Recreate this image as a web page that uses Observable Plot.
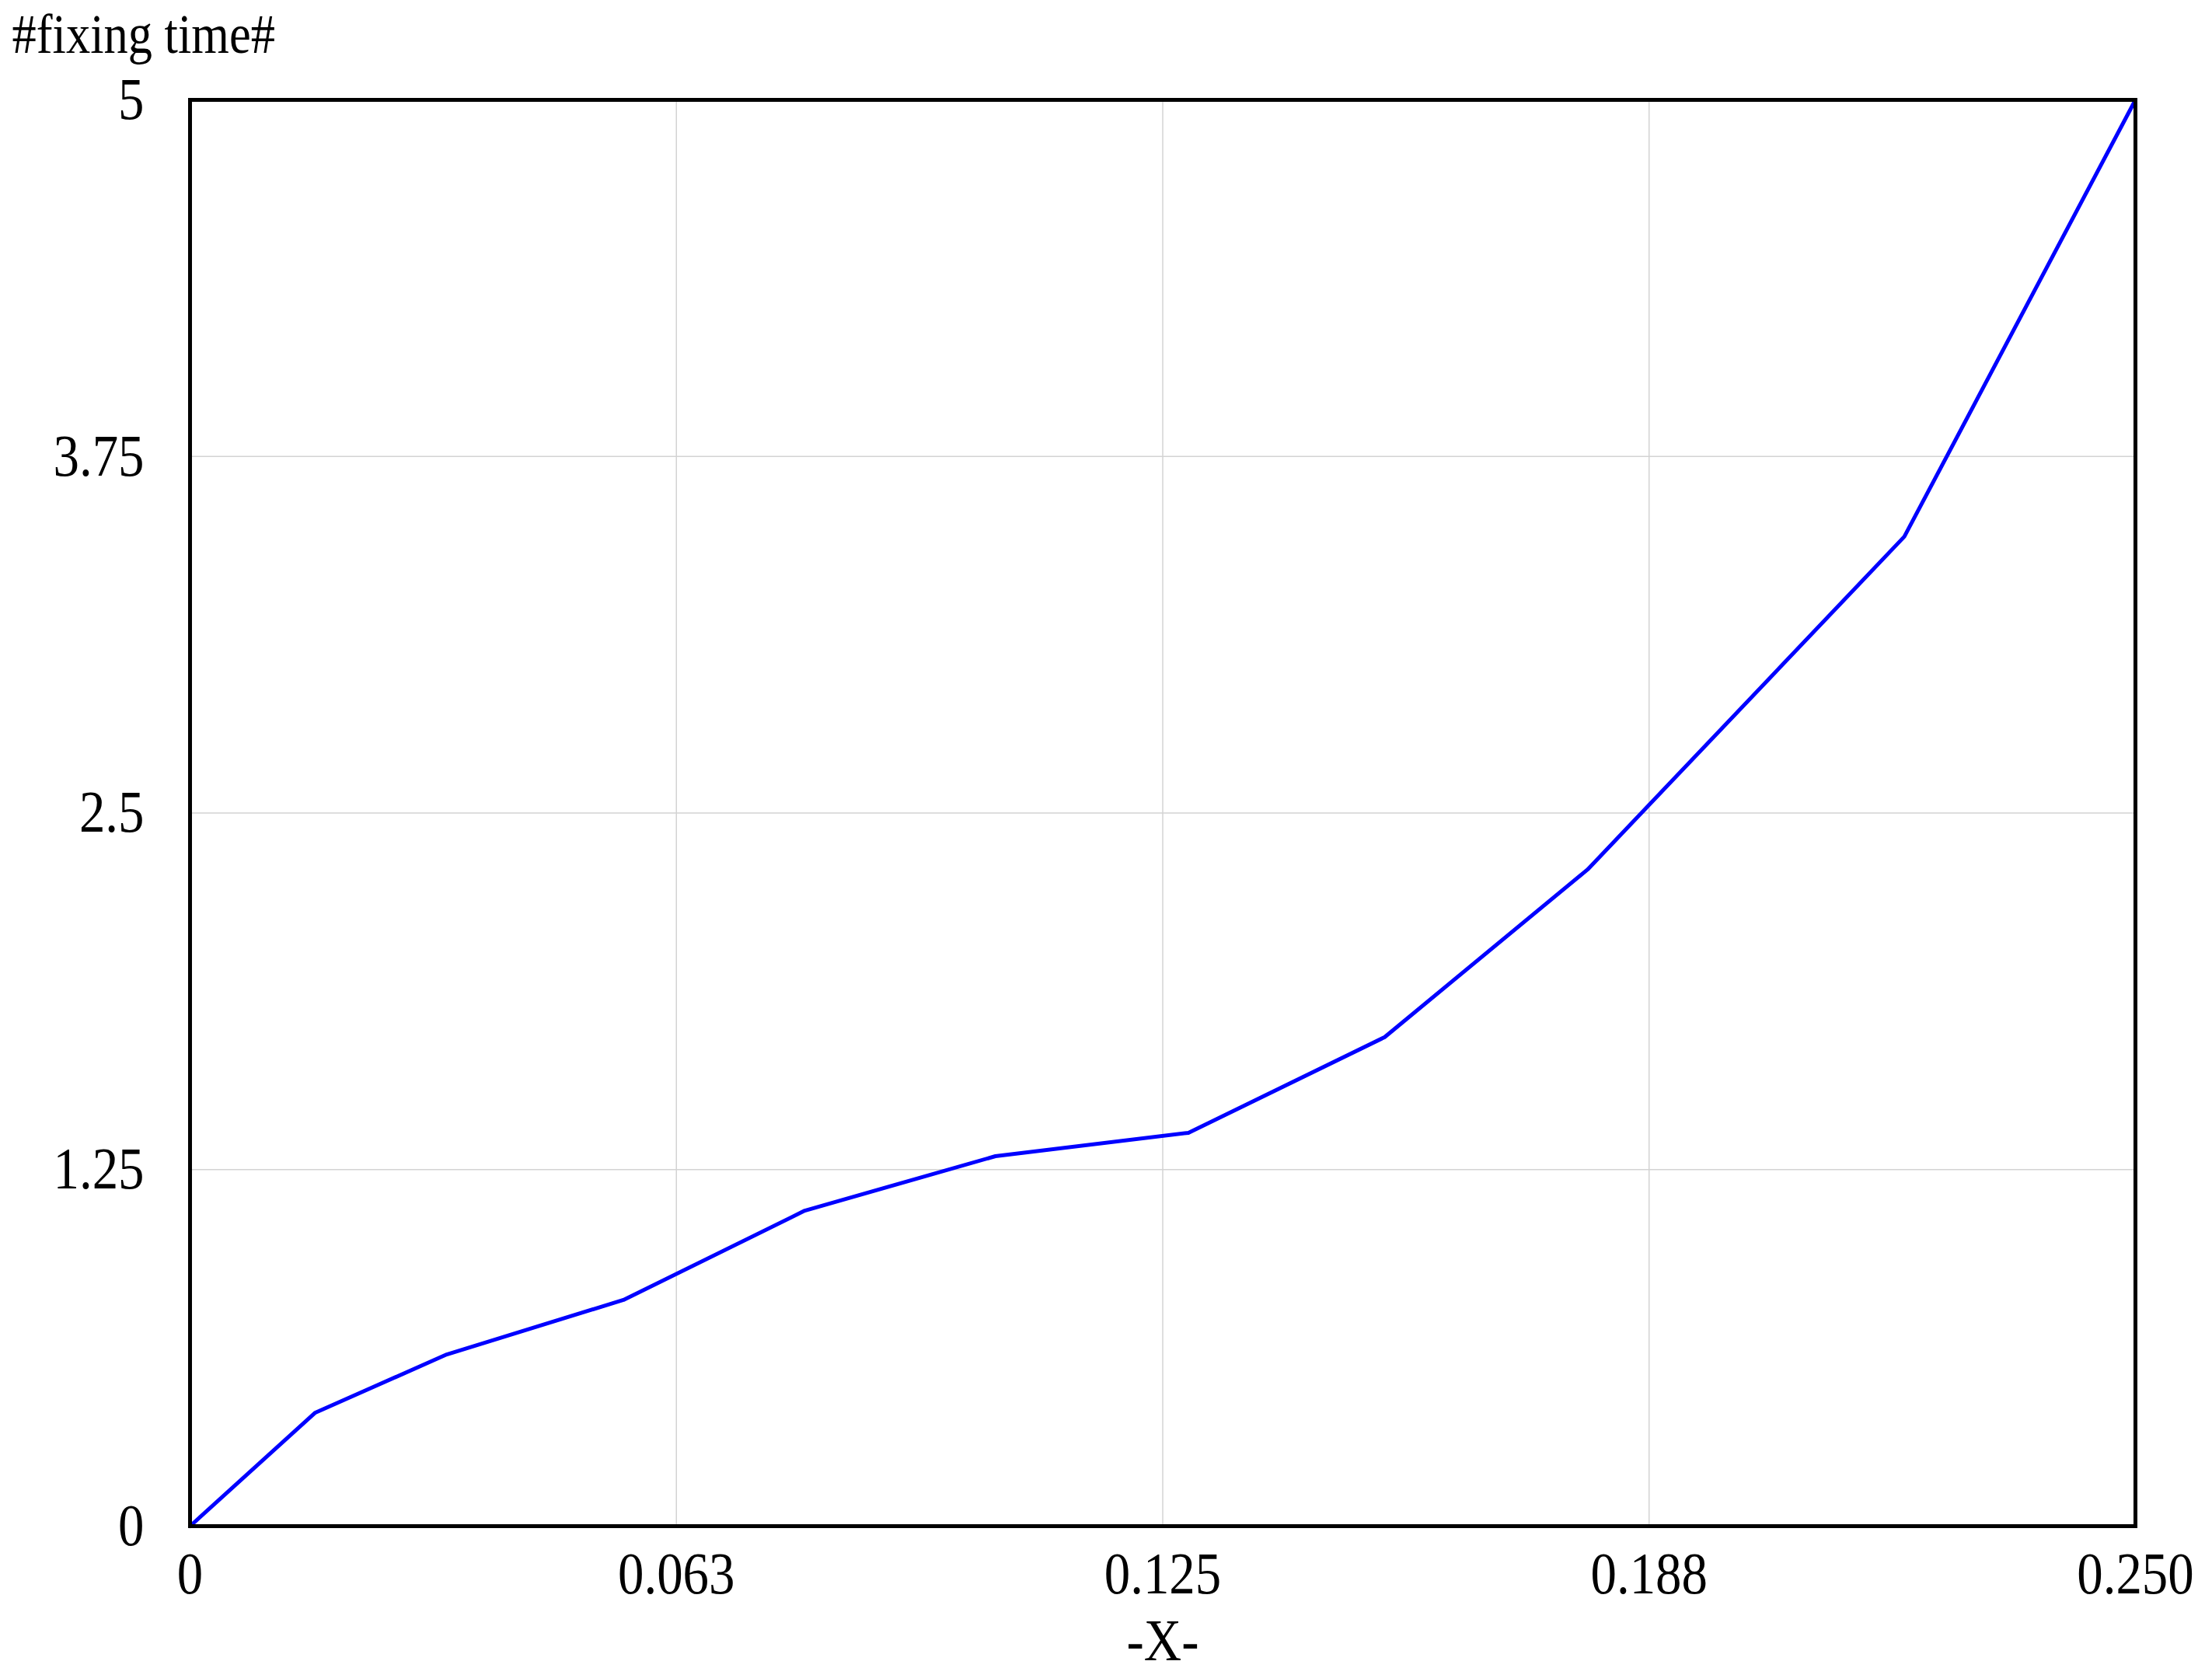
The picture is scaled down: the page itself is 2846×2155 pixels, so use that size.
<!DOCTYPE html>
<html>
<head>
<meta charset="utf-8">
<script src="https://cdn.jsdelivr.net/npm/d3@7"></script>
<script src="https://cdn.jsdelivr.net/npm/@observablehq/plot@0.6"></script>
<style>
  html, body { margin: 0; padding: 0; background: #fff; }
  #chart { width: 2846px; height: 2155px; }
</style>
</head>
<body>
<div id="chart"></div>
<script>
// Data
const xValues = [0, 0.0161, 0.0330, 0.0557, 0.0790, 0.1035, 0.1283, 0.1535, 0.1796, 0.2203, 0.25];
const yValues = [0, 0.398, 0.602, 0.793, 1.106, 1.297, 1.379, 1.714, 2.302, 3.469, 5];

const xTicks = [0, 0.0625, 0.125, 0.1875, 0.25];
const xTickLabels = ["0", "0.063", "0.125", "0.188", "0.250"];
const yTicks = [0, 1.25, 2.5, 3.75, 5];
const yTickLabels = ["0", "1.25", "2.5", "3.75", "5"];

const yTitle = "#fixing time#";
const xTitle = "-X-";

const data = xValues.map((x, i) => ({x, y: yValues[i]}));

const fs = 76;
const titleFs = 71;

const chart = Plot.plot({
  width: 2846,
  height: 2155,
  marginLeft: 244,
  marginRight: 99,
  marginTop: 128,
  marginBottom: 192,
  style: {fontFamily: "'Liberation Serif', 'Times New Roman', serif", fontSize: fs + "px", color: "black", background: "white"},
  x: {domain: [0, 0.25], nice: false},
  y: {domain: [0, 5], nice: false},
  marks: [
    Plot.gridX(xTicks.slice(1, -1), {stroke: "#d3d3d3", strokeOpacity: 1, strokeWidth: 1.5}),
    Plot.gridY(yTicks.slice(1, -1), {stroke: "#d3d3d3", strokeOpacity: 1, strokeWidth: 1.5}),
    Plot.axisX({ticks: xTicks, tickFormat: (d) => xTickLabels[xTicks.indexOf(d)], tickSize: 0, tickPadding: 33, label: null, fontSize: fs}),
    Plot.axisY({ticks: yTicks, tickFormat: (d) => yTickLabels[yTicks.indexOf(d)], tickSize: 0, tickPadding: 59, label: null, fontSize: fs}),
    Plot.line(data, {x: "x", y: "y", stroke: "#0000ff", strokeWidth: 5, clip: false}),
    Plot.frame({stroke: "black", strokeWidth: 5}),
    Plot.text([yTitle], {frameAnchor: "top-left", textAnchor: "start", lineAnchor: "middle", dx: -229, dy: 67 - 0.32 * titleFs - 128, fontSize: titleFs, fill: "black"}),
    Plot.text([xTitle], {frameAnchor: "bottom", lineAnchor: "middle", dy: 148, fontSize: fs, fill: "black"})
  ]
});
document.getElementById("chart").appendChild(chart);

// Narrow the serif glyphs to match the condensed look of the reference text
chart.querySelectorAll("text").forEach((el) => {
  const L = el.getComputedTextLength();
  if (L > 0) {
    el.setAttribute("textLength", (L * 0.88).toFixed(1));
    el.setAttribute("lengthAdjust", "spacingAndGlyphs");
  }
});
</script>
</body>
</html>
